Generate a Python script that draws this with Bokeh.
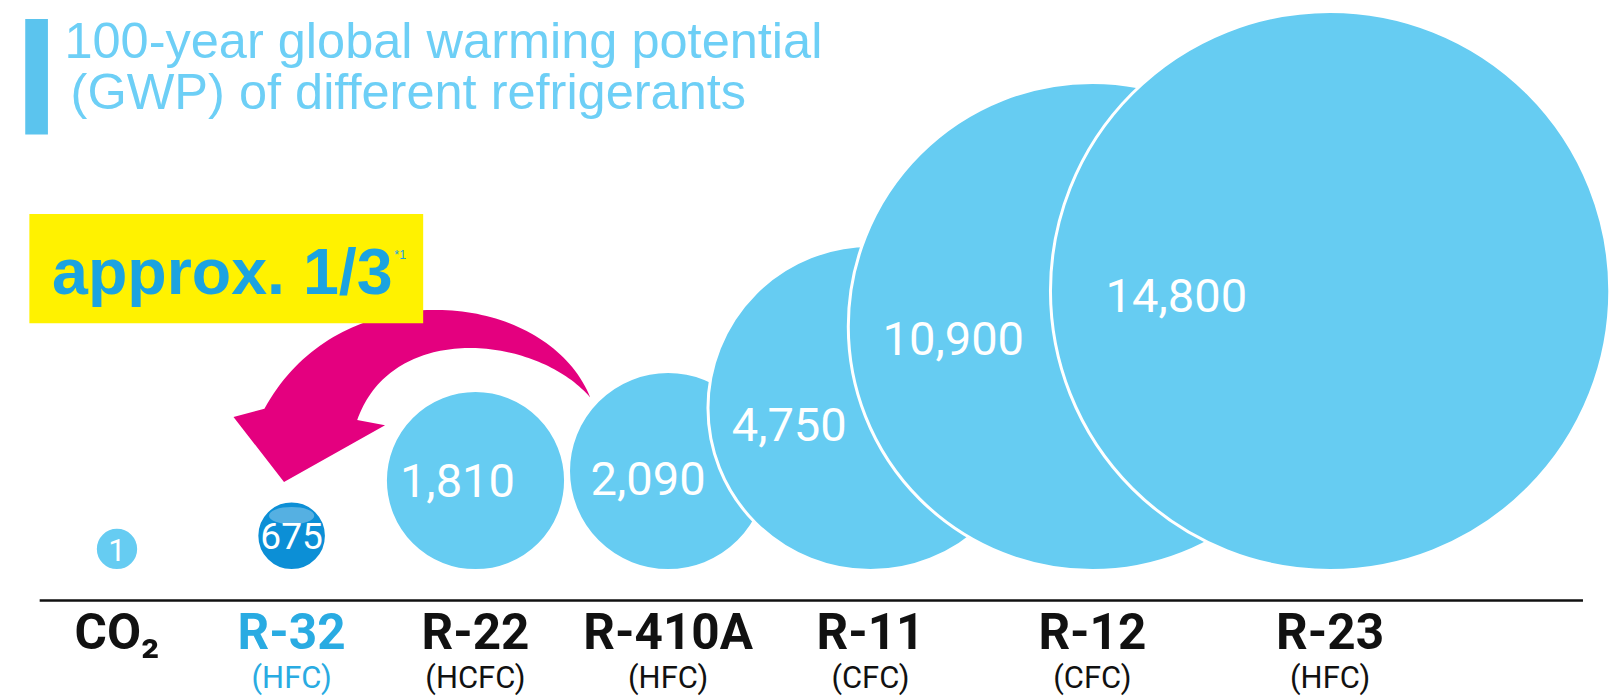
import numpy as np
from bokeh.plotting import figure
from bokeh.models import Range1d, ColumnDataSource
from bokeh.core.properties import value
from bokeh.embed import file_html
from bokeh.resources import INLINE

# ---------------- data ----------------
refrigerants = ["CO\u2082", "R-32", "R-22", "R-410A", "R-11", "R-12", "R-23"]
classes = ["", "(HFC)", "(HCFC)", "(HFC)", "(CFC)", "(CFC)", "(HFC)"]
gwp = [1, 675, 1810, 2090, 4750, 10900, 14800]
title_lines = ["100-year global warming potential", "(GWP) of different refrigerants"]
callout_text = "approx. 1/3"
callout_note = "*1"
highlight = "R-32"

# ---------------- styles ----------------
BUBBLE = "#66CCF2"
HILITE = "#0C8FD6"
TITLE_BLUE = "#6DCFF6"
LABEL_BLUE = "#29ABE2"
YELLOW = "#FFF200"
MAGENTA = "#E4007F"
FONT = "Roboto"
SANS = "Liberation Sans"

W, H = 1612, 696
S = 0.97  # layout units -> screen px factor


def fs(px):
    return f"{px / S:.1f}px"


p = figure(width=W, height=H, x_range=Range1d(0, W * S), y_range=Range1d(H * S, 0),
           output_backend="svg", toolbar_location=None, min_border=0,
           x_axis_location=None, y_axis_location=None)
p.grid.visible = False
p.outline_line_color = None
p.background_fill_color = "white"

# bubble size scale and packing along the baseline
v = np.array(gwp, dtype=float)
radius = np.maximum(21.0, 22.06 * v ** 0.3 - 122.0)
BASE_Y = 582      # axis line
BOTTOM_Y = 553    # bubbles rest here
x0 = 113.0
xs = [x0]
for i in range(1, len(v)):
    xs.append(xs[-1] + 162 + 0.135 * (radius[i - 1] + radius[i]))
xs = np.array(xs)
ys = BOTTOM_Y - radius

colors = [HILITE if r == highlight else BUBBLE for r in refrigerants]
src = ColumnDataSource(dict(x=xs, y=ys, r=radius, c=colors))
p.circle("x", "y", radius="r", source=src, fill_color="c", line_color="white", line_width=3)

# glossy highlight on the R-32 bubble
hi = refrigerants.index(highlight)
p.ellipse(x=[xs[hi]], y=[ys[hi] - 0.58 * radius[hi]], width=[1.3 * radius[hi]],
          height=[0.5 * radius[hi]], fill_color="white", fill_alpha=0.3, line_color=None)

# value labels inside bubbles
dxf = [0, 0, -0.2, -0.2, -0.5, -0.57, -0.55]
dyf = [0.05, 0, 0, 0.08, 0.1, 0.05, 0.015]
vsize = [fs(30), fs(36), fs(45.7), fs(45.7), fs(45.7), fs(45.7), fs(45.7)]
lab = ColumnDataSource(dict(
    x=xs + np.array(dxf) * radius, y=ys + np.array(dyf) * radius,
    t=[f"{g:,}" for g in gwp], s=vsize))
p.text("x", "y", text="t", source=lab, text_font=value(FONT), text_font_size="s",
       text_color="white", text_align="center", text_baseline="middle")

# baseline
p.segment(x0=[38], y0=[BASE_Y], x1=[1535], y1=[BASE_Y], line_color="#111111", line_width=2.5)

# category labels
lc = [LABEL_BLUE if r == highlight else "#111111" for r in refrigerants]
p.text(x=xs, y=[613] * len(xs), text=refrigerants, text_font=value(FONT),
       text_font_size=fs(48), text_font_style="bold", text_color=lc,
       text_align="center", text_baseline="middle")
p.text(x=xs, y=[657] * len(xs), text=classes, text_font=value(FONT),
       text_font_size=fs(30), text_color=lc,
       text_align="center", text_baseline="middle")

# title with bar
p.quad(left=[24], right=[46], top=[18], bottom=[130], fill_color="#5BC4EE", line_color=None)
p.text(x=[62, 68], y=[39, 88], text=title_lines, text_font=value(SANS),
       text_font_size=fs(49), text_color=TITLE_BLUE, text_align="left",
       text_baseline="middle")

# magenta curved arrow from R-410A to R-32
def bez(p0, p1, p2, p3, n=80):
    t = np.linspace(0, 1, n)[:, None]
    P = [np.array(q, float) for q in (p0, p1, p2, p3)]
    return ((1 - t) ** 3 * P[0] + 3 * (1 - t) ** 2 * t * P[1]
            + 3 * (1 - t) * t ** 2 * P[2] + t ** 3 * P[3])

tail = (572, 385)
outer = bez(tail, (530, 280), (330, 260), (256, 396))
inner = bez(tail, (520, 325), (380, 310), (346, 407))
head = np.array([(226, 404), (275, 467), (373, 412)], float)
poly = np.vstack([outer, head, inner[::-1]])
p.patch(poly[:, 0], poly[:, 1], fill_color=MAGENTA, line_color=None)

# yellow call-out
p.quad(left=[28], right=[410], top=[207], bottom=[313], fill_color=YELLOW, line_color=None)
p.text(x=[50], y=[263], text=[callout_text], text_font=value(SANS), text_font_size=fs(62.6),
       text_font_style="bold", text_color="#1CA3E0", text_align="left",
       text_baseline="middle")
p.text(x=[382], y=[247], text=[callout_note], text_font=value(SANS), text_font_size=fs(12),
       text_color="#1CA3E0", text_align="left", text_baseline="middle")

open("out.html", "w").write(file_html(p, INLINE))
